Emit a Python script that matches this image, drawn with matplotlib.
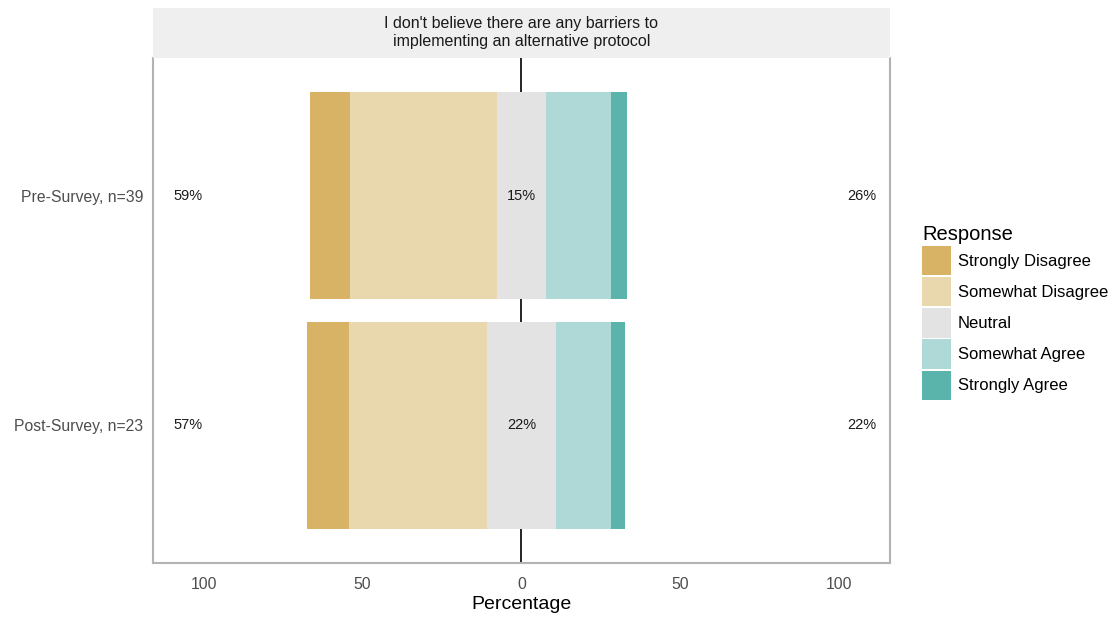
import matplotlib.pyplot as plt
import numpy as np
from matplotlib.patches import Patch

plt.rcParams['font.family'] = ['Liberation Sans', 'DejaVu Sans']

# Survey groups and response counts
groups = ['Pre-Survey, n=39', 'Post-Survey, n=23']
group_n = [39, 23]
responses = ['Strongly Disagree', 'Somewhat Disagree', 'Neutral',
             'Somewhat Agree', 'Strongly Agree']
counts = [
    [5, 18, 6, 8, 2],   # pre
    [3, 10, 5, 4, 1],   # post
]
low_labels = ['59%', '57%']
mid_labels = ['15%', '22%']
high_labels = ['26%', '22%']
colors = ['#D8B365', '#E9D8AE', '#E3E3E3', '#AED9D6', '#5AB4AC']
title = "I don't believe there are any barriers to\nimplementing an alternative protocol"

fig = plt.figure(figsize=(11.2, 6.19), dpi=100)
ax = fig.add_axes([0.1366, 0.0905, 0.658, 0.8158])

# rows listed top to bottom
y_pos = [2, 1]
for i, row in enumerate(counts):
    pct = np.array(row) / group_n[i] * 100
    start = -(pct[0] + pct[1] + pct[2] / 2)
    for j, p in enumerate(pct):
        ax.barh(y_pos[i], p, left=start, height=0.9, color=colors[j],
                linewidth=0, zorder=2)
        start += p
    ax.text(-105, y_pos[i], low_labels[i], ha='center', va='center',
            fontsize=10.5, color='#1a1a1a', zorder=4)
    ax.text(0, y_pos[i], mid_labels[i], ha='center', va='center',
            fontsize=10.5, color='#1a1a1a', zorder=4)
    ax.text(107, y_pos[i], high_labels[i], ha='center', va='center',
            fontsize=10.5, color='#1a1a1a', zorder=4)

ax.axvline(0, color='black', linewidth=1.2, zorder=1)

ax.set_xlim(-116, 116)
ax.set_ylim(0.4, 2.6)
ax.set_xticks([-100, -50, 0, 50, 100])
ax.set_xticklabels(['100', '50', '0', '50', '100'])
ax.set_yticks(y_pos)
ax.set_yticklabels(groups)
ax.tick_params(length=0, labelsize=11.3, colors='#4D4D4D')
ax.tick_params(axis='x', pad=10)
ax.tick_params(axis='y', pad=7)
ax.set_xlabel('Percentage', fontsize=14, color='black', labelpad=3)

for side in ['left', 'right', 'bottom']:
    ax.spines[side].set_color('#B3B3B3')
    ax.spines[side].set_linewidth(1.5)
ax.spines['top'].set_visible(False)

# Facet strip
strip = fig.add_axes([0.1366, 0.9063, 0.658, 0.0808])
strip.set_facecolor('#EFEFEF')
strip.set_xticks([])
strip.set_yticks([])
for s in strip.spines.values():
    s.set_visible(False)
strip.text(0.5, 0.5, title, ha='center', va='center', fontsize=11.5,
           color='#1a1a1a', transform=strip.transAxes, linespacing=1.25)

handles = [Patch(facecolor=c, edgecolor='none', label=r)
           for c, r in zip(colors, responses)]
fig.legend(handles=handles, title='Response', loc='center left',
           bbox_to_anchor=(0.810, 0.495), frameon=False, fontsize=12,
           title_fontsize=14.5, handlelength=1.75, handleheight=2.35,
           handletextpad=0.4, labelspacing=0.1, alignment='left')

fig.savefig('out.png', dpi=100)
